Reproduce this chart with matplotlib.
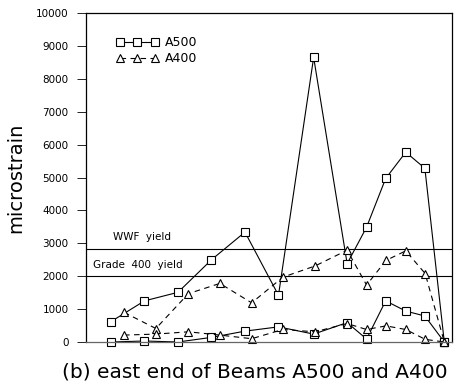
import matplotlib
matplotlib.use("Agg")
import matplotlib.pyplot as plt

# Gauge positions along the beams (arbitrary length units)
x_a500 = [1.0, 2.0, 3.0, 4.0, 5.0, 6.0, 7.05, 8.05, 8.63, 9.2, 9.8, 10.37, 10.95]
x_a400 = [1.39, 2.34, 3.31, 4.25, 5.2, 6.13, 7.09, 8.05, 8.63, 9.21, 9.8, 10.38, 10.95]

# Strain readings (microstrain)
a500_top = [620, 1250, 1510, 2500, 3340, 1420, 8650, 2380, 3490, 4970, 5770, 5280, 0]
a500_bot = [0, 30, 0, 140, 330, 460, 240, 590, 90, 1250, 940, 790, 0]
a400_top = [900, 410, 1470, 1780, 1190, 1970, 2310, 2790, 1730, 2480, 2770, 2080, 0]
a400_bot = [210, 240, 310, 210, 100, 380, 310, 560, 380, 490, 380, 80, 0]

wwf_yield = 2840
grade400_yield = 2000

y_ticks = [0, 1000, 2000, 3000, 4000, 5000, 6000, 7000, 8000, 9000, 10000]

fig = plt.figure(figsize=(4.55, 3.86), dpi=100)
ax = fig.add_axes([0.189, 0.114, 0.8044, 0.8523])

lw = 0.8
sq = dict(marker="s", markersize=5.5, markerfacecolor="white",
          markeredgecolor="black", markeredgewidth=0.8, color="black",
          linewidth=lw, clip_on=False)
tri = dict(marker="^", markersize=6.2, markerfacecolor="white",
           markeredgecolor="black", markeredgewidth=0.8, color="black",
           linewidth=lw, linestyle=(0, (5, 4)), clip_on=False)

ax.axhline(wwf_yield, color="black", linewidth=lw)
ax.axhline(grade400_yield, color="black", linewidth=lw)

ax.plot(x_a500, a500_top, label="A500", **sq)
ax.plot(x_a500, a500_bot, **sq)
ax.plot(x_a400, a400_top, label="A400", **tri)
ax.plot(x_a400, a400_bot, **tri)

ax.text(1.06, 3180, "WWF  yield", fontsize=7.5, va="center", ha="left")
ax.text(0.46, 2330, "Grade  400  yield", fontsize=7.5, va="center", ha="left")

ax.set_xlim(0.254, 11.18)
ax.set_ylim(0, 10000)
ax.set_yticks(y_ticks)
ax.set_yticklabels([str(v) for v in y_ticks], fontsize=7.5)
ax.tick_params(axis="y", direction="out", length=6.5, width=0.6, pad=6)
ax.set_xticks([])

for side in ("left", "top", "right"):
    ax.spines[side].set_linewidth(0.9)
ax.spines["bottom"].set_color("#666666")
ax.spines["bottom"].set_linewidth(0.9)

ax.set_ylabel("microstrain", fontsize=14, labelpad=8)

leg = ax.legend(loc="upper left", bbox_to_anchor=(0.068, 0.945), frameon=False,
                numpoints=3, handlelength=3.4, handletextpad=0.5,
                fontsize=9, labelspacing=0.25, borderaxespad=0)

fig.text(0.561, 0.035, "(b) east end of Beams A500 and A400",
         fontsize=14.5, ha="center", va="center")

fig.savefig("out.png", dpi=100)
